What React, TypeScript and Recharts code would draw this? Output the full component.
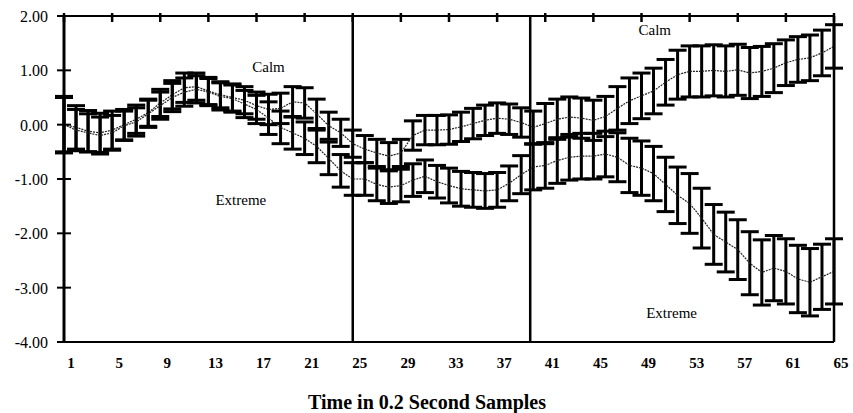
import React from 'react';
import { LineChart, Line, XAxis, YAxis, ErrorBar, ReferenceLine, ReferenceDot, Label } from 'recharts';

const samples = [1,2,3,4,5,6,7,8,9,10,11,12,13,14,15,16,17,18,19,20,21,22,23,24,25,26,27,28,29,30,31,32,33,34,35,36,37,38,39,40,41,42,43,44,45,46,47,48,49,50,51,52,53,54,55,56,57,58,59,60,61,62,63,64,65];

const calmMean = [0,-0.05,-0.12,-0.15,-0.1,0,0.1,0.22,0.4,0.55,0.68,0.7,0.62,0.55,0.5,0.45,0.35,0.28,0.3,0.42,0.4,0.2,-0.02,-0.15,-0.35,-0.45,-0.52,-0.58,-0.52,-0.2,-0.1,-0.1,-0.09,-0.04,0.02,0.08,0.12,0.1,0.04,-0.05,0.02,0.1,0.14,0.12,0.08,0.15,0.3,0.44,0.53,0.62,0.78,0.92,0.98,0.98,1.0,0.98,1.01,0.95,0.98,1.04,1.14,1.2,1.23,1.32,1.44];
const calmErr = [0.52,0.4,0.38,0.36,0.35,0.28,0.26,0.25,0.25,0.26,0.27,0.25,0.25,0.24,0.25,0.25,0.25,0.28,0.28,0.28,0.28,0.27,0.25,0.25,0.25,0.25,0.25,0.25,0.25,0.27,0.27,0.27,0.27,0.27,0.28,0.28,0.28,0.28,0.27,0.3,0.37,0.37,0.37,0.37,0.37,0.37,0.4,0.42,0.42,0.42,0.42,0.45,0.47,0.47,0.47,0.47,0.47,0.47,0.46,0.45,0.42,0.42,0.42,0.42,0.4];
const extremeMean = [0,-0.1,-0.15,-0.2,-0.15,-0.02,0.05,0.2,0.35,0.5,0.6,0.65,0.6,0.52,0.48,0.38,0.28,0.12,-0.05,-0.15,-0.25,-0.4,-0.62,-0.85,-1.0,-1.0,-1.1,-1.15,-1.12,-1.02,-0.95,-1.05,-1.12,-1.18,-1.2,-1.22,-1.2,-1.08,-0.92,-0.78,-0.75,-0.66,-0.6,-0.58,-0.58,-0.54,-0.6,-0.75,-0.8,-0.9,-1.1,-1.3,-1.45,-1.72,-2.02,-2.16,-2.3,-2.55,-2.72,-2.64,-2.7,-2.84,-2.9,-2.8,-2.7];
const extremeErr = [0.5,0.38,0.35,0.34,0.32,0.27,0.26,0.25,0.25,0.26,0.26,0.25,0.25,0.25,0.25,0.25,0.26,0.3,0.3,0.3,0.3,0.3,0.3,0.3,0.3,0.3,0.3,0.3,0.3,0.3,0.3,0.3,0.32,0.32,0.32,0.32,0.32,0.32,0.35,0.42,0.42,0.42,0.42,0.42,0.42,0.42,0.45,0.5,0.5,0.5,0.5,0.52,0.55,0.55,0.55,0.55,0.55,0.58,0.6,0.6,0.6,0.62,0.62,0.6,0.6];

const xTicks = [1,5,9,13,17,21,25,29,33,37,41,45,49,53,57,61,65];
const yTicks = [-4,-3,-2,-1,0,1,2];
const phaseBoundaries = [25, 39.75];

const annotations = [
  { x: 18, y: 1.07, text: 'Calm' },
  { x: 15.7, y: -1.38, text: 'Extreme' },
  { x: 50.1, y: 1.75, text: 'Calm' },
  { x: 51.5, y: -3.46, text: 'Extreme' },
];

const data = samples.map((s, i) => ({
  s,
  calm: calmMean[i],
  calmErr: calmErr[i],
  extreme: extremeMean[i],
  extremeErr: extremeErr[i],
}));

const FONT = '"Liberation Serif", "Times New Roman", serif';

const LeftTick = (props: any) => {
  const { x, y, payload } = props;
  return (
    <g>
      <line x1={x - 7} x2={x + 7} y1={y} y2={y} stroke="#000" strokeWidth={2} />
      <text x={x - 16} y={y + 6} textAnchor="end" fontFamily={FONT} fontSize={16} fill="#000">
        {Number(payload.value).toFixed(2)}
      </text>
    </g>
  );
};

const RightTick = (props: any) => {
  const { x, y } = props;
  return <line x1={x - 4} x2={x + 4} y1={y} y2={y} stroke="#000" strokeWidth={2} />;
};

const TopTick = (props: any) => {
  const { x, y } = props;
  return <line x1={x} x2={x} y1={y - 3} y2={y + 6} stroke="#000" strokeWidth={2.5} />;
};

const BottomTick = (props: any) => {
  const { x, y, payload } = props;
  return (
    <text x={x + 7} y={y + 26} textAnchor="middle" fontFamily={FONT} fontWeight="bold" fontSize={15} fill="#000">
      {payload.value}
    </text>
  );
};

export default function App() {
  return (
    <div style={{ position: 'absolute', left: 0, top: 0, width: 853, height: 413, background: '#fff' }}>
      <LineChart width={853} height={413} data={data} margin={{ top: 6, right: 9, bottom: 31, left: 0 }}>
        <XAxis
          xAxisId="top"
          orientation="top"
          dataKey="s"
          type="number"
          domain={[1, 65]}
          ticks={xTicks}
          interval={0}
          height={10}
          tickSize={0}
          tickMargin={0}
          tick={<TopTick />}
          tickLine={false}
          axisLine={{ stroke: '#000', strokeWidth: 2 }}
        />
        <XAxis
          xAxisId="bottom"
          dataKey="s"
          type="number"
          domain={[1, 65]}
          ticks={xTicks}
          interval={0}
          height={40}
          tickSize={0}
          tickMargin={0}
          tick={<BottomTick />}
          tickLine={false}
          axisLine={{ stroke: '#000', strokeWidth: 2 }}
        >
          <Label
            content={(p: any) => {
              const vb = p.viewBox || {};
              return (
                <text x={vb.x + vb.width / 2 - 22} y={vb.y + 67} textAnchor="middle" fontFamily={FONT} fontWeight="bold" fontSize={20} fill="#000">
                  Time in 0.2 Second Samples
                </text>
              );
            }}
          />
        </XAxis>
        <YAxis
          yAxisId="left"
          type="number"
          domain={[-4, 2]}
          ticks={yTicks}
          interval={0}
          width={64}
          tickSize={0}
          tickMargin={0}
          tick={<LeftTick />}
          tickLine={false}
          axisLine={{ stroke: '#000', strokeWidth: 3 }}
        />
        <YAxis
          yAxisId="right"
          orientation="right"
          type="number"
          domain={[-4, 2]}
          ticks={yTicks}
          interval={0}
          width={10}
          tickSize={0}
          tickMargin={0}
          tick={<RightTick />}
          tickLine={false}
          axisLine={{ stroke: '#000', strokeWidth: 2.5 }}
        />
        {phaseBoundaries.map((b) => (
          <ReferenceLine key={b} x={b} xAxisId="bottom" yAxisId="left" stroke="#000" strokeWidth={2.5} />
        ))}
        <Line
          xAxisId="bottom"
          yAxisId="left"
          type="linear"
          dataKey="calm"
          stroke="#222"
          strokeWidth={1.2}
          strokeDasharray="2 1"
          dot={false}
          isAnimationActive={false}
        >
          <ErrorBar dataKey="calmErr" direction="y" width={9} stroke="#000" strokeWidth={3} isAnimationActive={false} />
        </Line>
        <Line
          xAxisId="bottom"
          yAxisId="left"
          type="linear"
          dataKey="extreme"
          stroke="#222"
          strokeWidth={1.2}
          strokeDasharray="2 1"
          dot={false}
          isAnimationActive={false}
        >
          <ErrorBar dataKey="extremeErr" direction="y" width={9} stroke="#000" strokeWidth={3} isAnimationActive={false} />
        </Line>
        {annotations.map((a, i) => (
          <ReferenceDot
            key={i}
            x={a.x}
            y={a.y}
            xAxisId="bottom"
            yAxisId="left"
            r={0}
            stroke="none"
            fill="none"
            label={{ value: a.text, position: 'center', fontFamily: FONT, fontSize: 15, fill: '#000' }}
          />
        ))}
      </LineChart>
    </div>
  );
}
